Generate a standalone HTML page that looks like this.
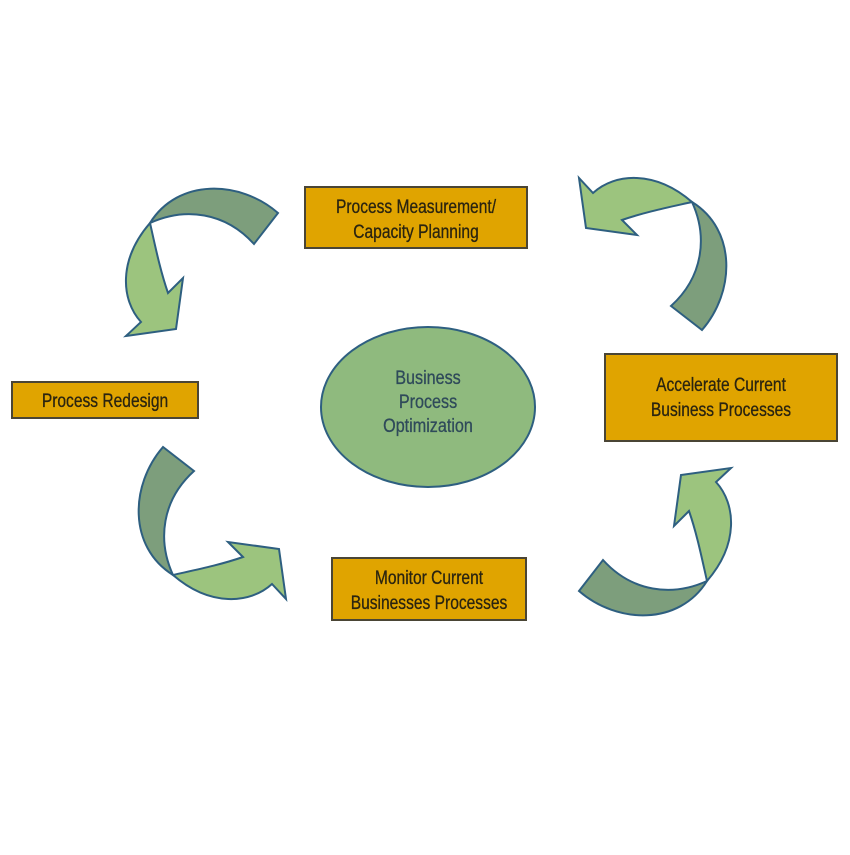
<!DOCTYPE html>
<html><head><style>
body{margin:0;background:#fff;width:850px;height:850px;overflow:hidden}
svg text{font-family:"Liberation Sans",sans-serif;font-size:19px;fill:#2a2410;text-anchor:middle;stroke:#2a2410;stroke-width:0.3}
</style></head><body>
<svg width="850" height="850" viewBox="0 0 850 850">
<defs>
<g id="arr">
<path d="M278,213 C240,180 178,178 150,223 C185,207 225,212 254,244 Z" fill="#7d9e7c" stroke="#2e5f80" stroke-width="2"/>
<path d="M150,223 C118,260 121,300 141,322 L126,336 L176,329 L183,278 L168,293 C160,270 155,245 150,223 Z" fill="#9cc47e" stroke="#2e5f80" stroke-width="2"/>
</g>
</defs>
<use href="#arr"/>
<g transform="translate(654,254) rotate(90) translate(-202,-261)"><use href="#arr"/></g>
<g transform="translate(211,523) rotate(-90) translate(-202,-261)"><use href="#arr"/></g>
<g transform="translate(655,543) rotate(180) translate(-202,-261)"><use href="#arr"/></g>

<rect x="305" y="187" width="222" height="61" fill="#e0a400" stroke="#4a4535" stroke-width="2"/>
<text transform="translate(416,213) scale(0.82,1)">Process Measurement/</text>
<text transform="translate(416,238) scale(0.82,1)">Capacity Planning</text>

<rect x="12" y="382" width="186" height="36" fill="#e0a400" stroke="#4a4535" stroke-width="2"/>
<text transform="translate(105,407) scale(0.82,1)">Process Redesign</text>

<rect x="605" y="354" width="232" height="87" fill="#e0a400" stroke="#4a4535" stroke-width="2"/>
<text transform="translate(721,391) scale(0.82,1)">Accelerate Current</text>
<text transform="translate(721,416) scale(0.82,1)">Business Processes</text>

<rect x="332" y="558" width="194" height="62" fill="#e0a400" stroke="#4a4535" stroke-width="2"/>
<text transform="translate(429,584) scale(0.82,1)">Monitor Current</text>
<text transform="translate(429,609) scale(0.82,1)">Businesses Processes</text>

<ellipse cx="428" cy="407" rx="107" ry="80" fill="#8fba7e" stroke="#2e5f80" stroke-width="2"/>
<text transform="translate(428,384) scale(0.85,1)" style="fill:#2f4a5a;stroke:#2f4a5a">Business</text>
<text transform="translate(428,408) scale(0.85,1)" style="fill:#2f4a5a;stroke:#2f4a5a">Process</text>
<text transform="translate(428,432) scale(0.85,1)" style="fill:#2f4a5a;stroke:#2f4a5a">Optimization</text>
</svg>
</body></html>
